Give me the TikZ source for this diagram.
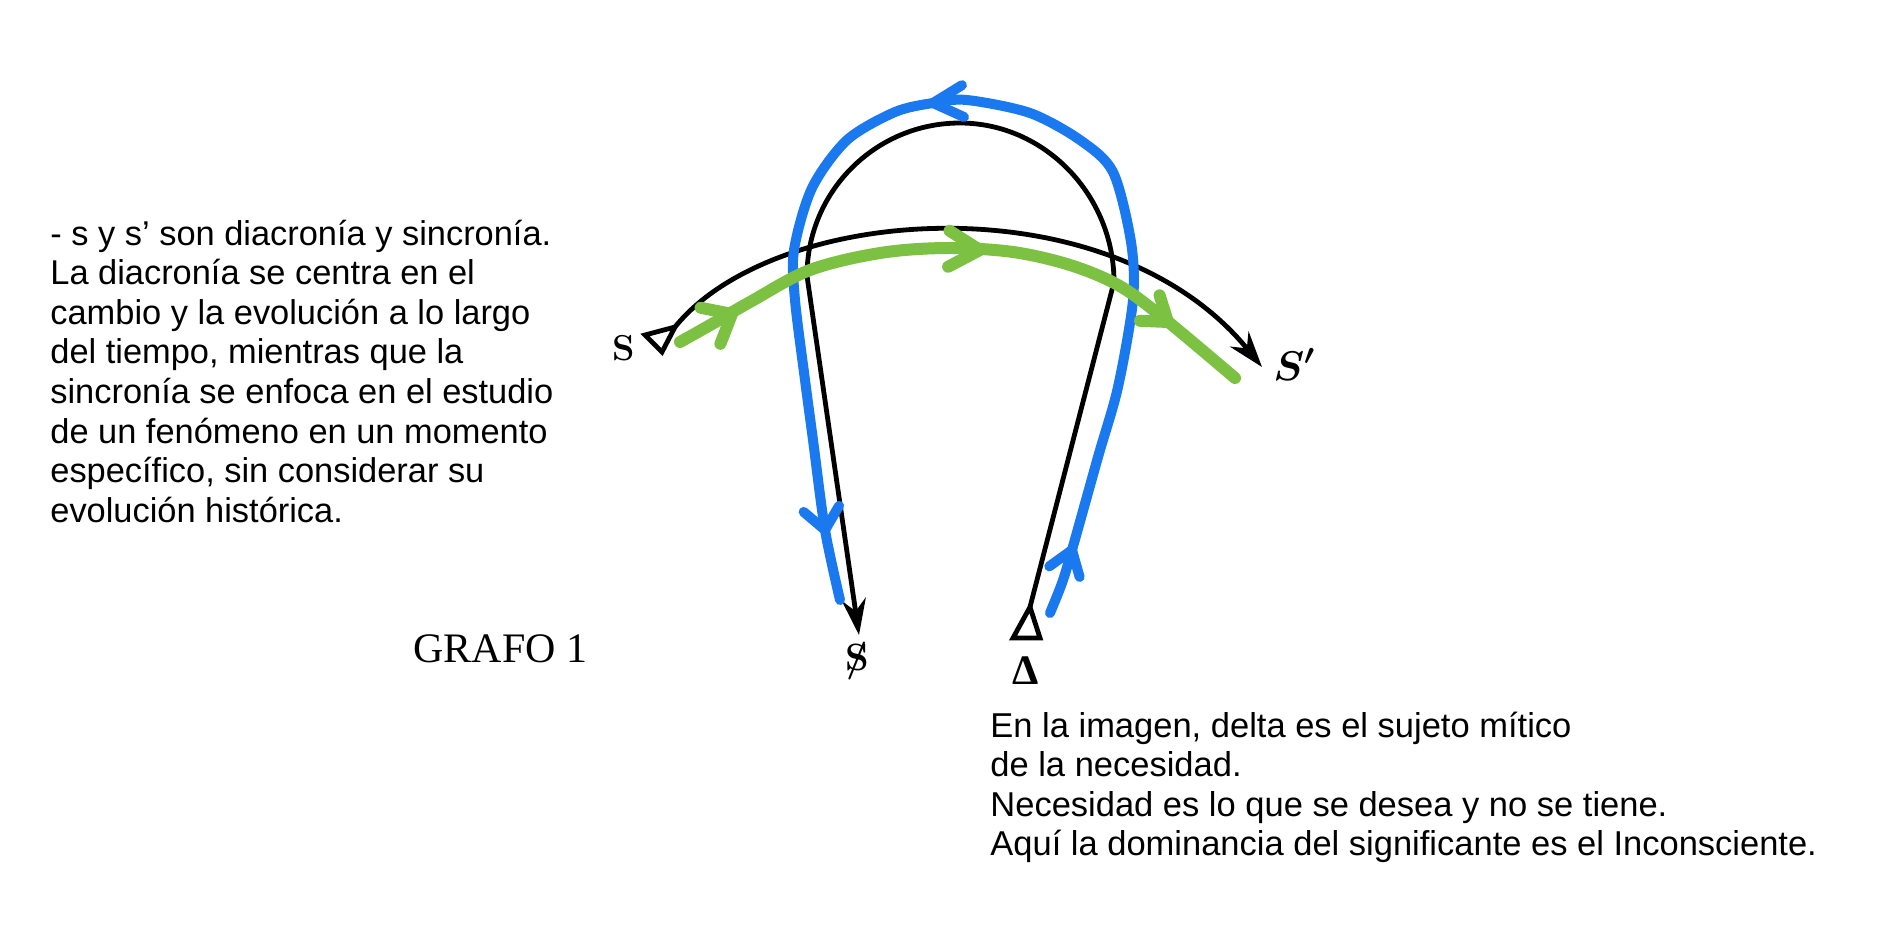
\documentclass[tikz,border=0pt]{standalone}
\usepackage{fontspec}
\newfontfamily\sansf{Liberation Sans}
\newfontfamily\seriff{Liberation Serif}
\usetikzlibrary{arrows.meta,calc}
\definecolor{bluepen}{RGB}{27,121,240}
\definecolor{greenpen}{RGB}{124,193,66}
\newcommand\vmark[5]{\draw[#1] ($#2!#4!#5:#3$) -- #2 -- ($#2!#4!-#5:#3$);}
\begin{document}
\begin{tikzpicture}[x=0.5pt,y=-0.5pt,
  blk/.style={line width=2.4pt, black},
  blu/.style={line width=5pt, color=bluepen, line cap=round, line join=round},
  grn/.style={line width=6pt, color=greenpen, line cap=round, line join=round},
  tipped/.style={-{Stealth[length=18pt,width=12pt,inset=6pt]}},
  tri/.style={line width=2.4pt, line join=miter, black},
  txt/.style={anchor=base west, inner sep=0pt, font=\sansf}]
\fill[white] (0,0) rectangle (1896,932);
\useasboundingbox (0,0) rectangle (1896,932);

% named points
\coordinate (Sv) at (675,327);
\coordinate (Send) at (1262,367);
\coordinate (hsA) at (1030,607);
\coordinate (hsR) at (1114,282);
\coordinate (hsTop) at (960,123);
\coordinate (hsL) at (807,276);
\coordinate (hsEnd) at (859,635);

% labels
\node[inner sep=0pt, font=\fontsize{18}{18}\selectfont\bfseries] (lblS) at (624,348) {S};
\node[anchor=base west, inner sep=0pt, font=\fontsize{20}{20}\selectfont] (lblSp) at (1273,380) {{\boldmath$S'$}};
\node[inner sep=0pt, font=\fontsize{19}{19}\selectfont\bfseries] (barS) at (857,662) {\ooalign{S\cr\hidewidth/\hidewidth}};
\node[anchor=base, inner sep=0pt, font=\seriff\fontsize{21}{21}\selectfont\bfseries] (delta) at (1026,684) {Δ};
\node[anchor=base west, inner sep=0pt, font=\seriff\fontsize{21}{21}\selectfont] (grafo) at (413,662) {GRAFO 1};

% triangles
\draw[tri] (645,335) -- (Sv) -- (662,352) -- cycle;
\draw[tri] (hsA) -- (1040,638) -- (1013,638) -- cycle;

% black curves
\draw[blk, tipped] (hsA) -- (hsR) .. controls (1114,195) and (1044.5,123) .. (hsTop)
   .. controls (875.5,123) and (807,191.5) .. (hsL) -- (hsEnd);
\draw[blk, tipped] (Sv) .. controls (775,203) and (1110,180) .. (Send);

% blue stroke
\draw[blu] plot[smooth, tension=0.5] coordinates {(1050,613) (1062,583) (1072,550) (1098,457) (1118,387) (1133,300) (1131,242) (1113,172) (1080,140) (1030,113) (967,100) (933,103) (895,112) (847,140) (812,188) (794,250) (795,300) (805,380) (813,440) (825,530) (840,600)};
\vmark{blu}{(1072,550)}{(1050,613)}{14pt}{35}
\vmark{blu}{(933,103)}{(980,100)}{17pt}{28}
\vmark{blu}{(825,530)}{(813,460)}{14pt}{40}

% green stroke
\draw[grn] plot[smooth, tension=0.55] coordinates {(680,342) (712,324) (750,302) (810,270) (880,253) (947,248) (1013,252) (1070,265) (1118,285) (1161,316) (1235,378)};
\vmark{grn}{(732,314)}{(690,337)}{16pt}{40}
\vmark{grn}{(980,250)}{(930,248)}{18pt}{30}
\vmark{grn}{(1168,322)}{(1125,289)}{14pt}{35}

% texts
\node[txt] (lefttext) at (50,245) {\parbox[t]{330pt}{\fontsize{17.2}{19.8}\selectfont
- s y s’ son diacronía y sincronía.\\
La diacronía se centra en el\\
cambio y la evolución a lo largo\\
del tiempo, mientras que la\\
sincronía se enfoca en el estudio\\
de un fenómeno en un momento\\
específico, sin considerar su\\
evolución histórica.}};
\node[txt] (righttext) at (990,737) {\parbox[t]{500pt}{\fontsize{17.25}{19.75}\selectfont
En la imagen, delta es el sujeto mítico\\
de la necesidad.\\
Necesidad es lo que se desea y no se tiene.\\
Aquí la dominancia del significante es el Inconsciente.}};
\end{tikzpicture}
\end{document}
